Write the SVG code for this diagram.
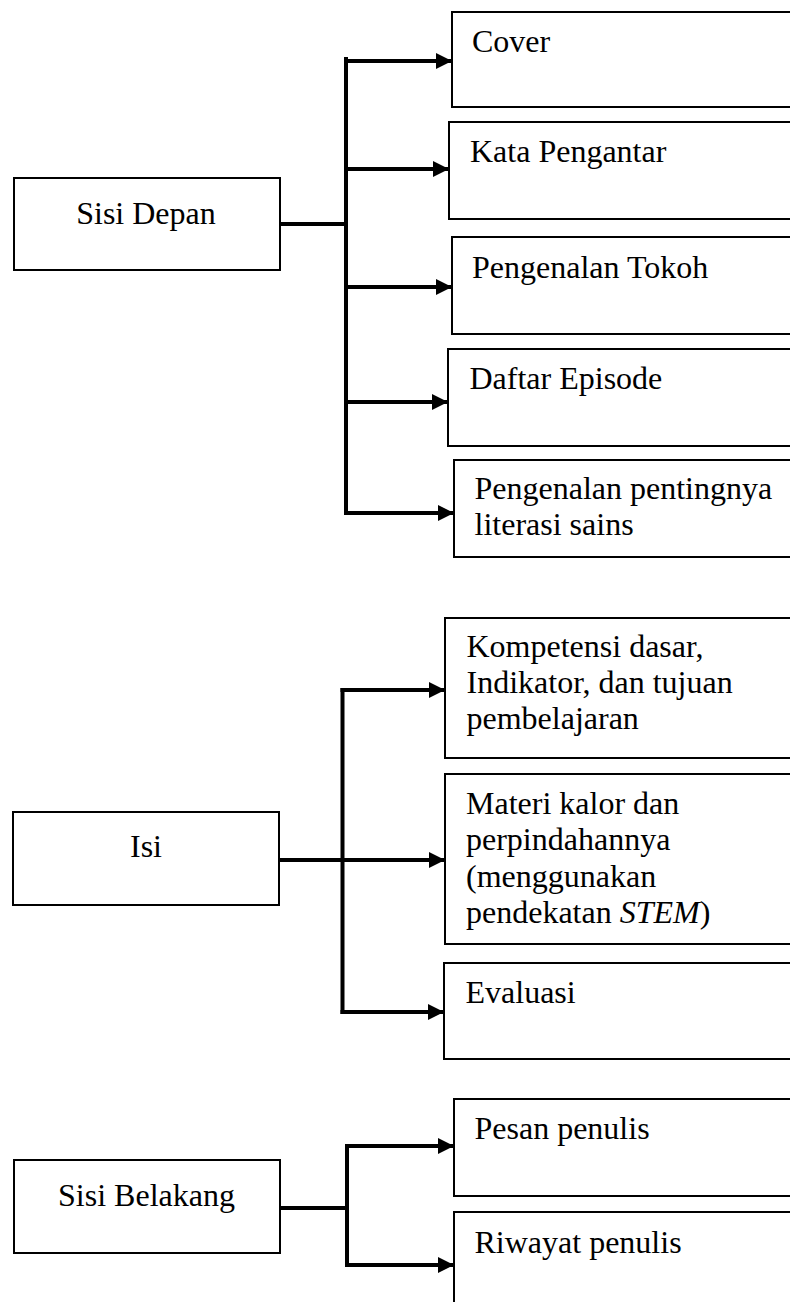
<svg xmlns="http://www.w3.org/2000/svg" width="790" height="1302" viewBox="0 0 790 1302">
<style>
.box{fill:#fff;stroke:#000;stroke-width:2}
.t{font-family:"Liberation Serif","Times New Roman",serif;font-size:32px;fill:#000}
.c{text-anchor:middle}
.ln{fill:none;stroke:#000;stroke-width:4;stroke-linecap:butt;stroke-linejoin:miter}
</style>
<defs>
<marker id="ah" viewBox="0 0 16 16" refX="16" refY="8" markerWidth="16" markerHeight="16" markerUnits="userSpaceOnUse" orient="auto">
<path d="M0,0 L16,8 L0,16 Z" fill="#000"/>
</marker>
</defs>
<rect width="790" height="1302" fill="#fff"/>

<g id="sisi-depan">
<rect class="box" x="14" y="178" width="266" height="92"/>
<text class="t c" x="146" y="224">Sisi Depan</text>
</g>
<g id="cover">
<rect class="box" x="452" y="12" width="360" height="95"/>
<text class="t" x="472" y="52">Cover</text>
</g>
<g id="kata-pengantar">
<rect class="box" x="449" y="122" width="360" height="97"/>
<text class="t" x="470" y="162">Kata Pengantar</text>
</g>
<g id="pengenalan-tokoh">
<rect class="box" x="452" y="237" width="360" height="97"/>
<text class="t" x="472" y="278">Pengenalan Tokoh</text>
</g>
<g id="daftar-episode">
<rect class="box" x="448" y="349" width="360" height="97"/>
<text class="t" x="469.5" y="389">Daftar Episode</text>
</g>
<g id="literasi-sains">
<rect class="box" x="454" y="460" width="360" height="97"/>
<text class="t" x="474.5" y="499">Pengenalan pentingnya</text>
<text class="t" x="474.5" y="535">literasi sains</text>
</g>

<g id="isi">
<rect class="box" x="13" y="812" width="266" height="93"/>
<text class="t c" x="146" y="857">Isi</text>
</g>
<g id="kompetensi">
<rect class="box" x="445" y="618" width="360" height="140"/>
<text class="t" x="466.5" y="657">Kompetensi dasar,</text>
<text class="t" x="466.5" y="693">Indikator, dan tujuan</text>
<text class="t" x="466.5" y="729">pembelajaran</text>
</g>
<g id="materi">
<rect class="box" x="445" y="774" width="360" height="170"/>
<text class="t" x="466" y="814">Materi kalor dan</text>
<text class="t" x="466" y="850">perpindahannya</text>
<text class="t" x="466" y="887">(menggunakan</text>
<text class="t" x="466" y="923">pendekatan <tspan font-style="italic">STEM</tspan>)</text>
</g>
<g id="evaluasi">
<rect class="box" x="444" y="963" width="360" height="96"/>
<text class="t" x="465.5" y="1003">Evaluasi</text>
</g>

<g id="sisi-belakang">
<rect class="box" x="14" y="1160" width="266" height="93"/>
<text class="t c" x="146.5" y="1206">Sisi Belakang</text>
</g>
<g id="pesan-penulis">
<rect class="box" x="454" y="1099" width="360" height="97"/>
<text class="t" x="474.5" y="1139">Pesan penulis</text>
</g>
<g id="riwayat-penulis">
<rect class="box" x="454" y="1212" width="360" height="120"/>
<text class="t" x="474.5" y="1253">Riwayat penulis</text>
</g>

<g id="connectors">
<path class="ln" d="M280,224 H346"/>
<path class="ln" d="M346,57 V515"/>
<path class="ln" d="M346,61 H452" marker-end="url(#ah)"/>
<path class="ln" d="M344,169 H449" marker-end="url(#ah)"/>
<path class="ln" d="M346,287 H452" marker-end="url(#ah)"/>
<path class="ln" d="M344,402 H448" marker-end="url(#ah)"/>
<path class="ln" d="M344,513 H454" marker-end="url(#ah)"/>

<path class="ln" d="M279,860 H445" marker-end="url(#ah)"/>
<path class="ln" d="M342.5,688 V1014"/>
<path class="ln" d="M340.5,690 H445" marker-end="url(#ah)"/>
<path class="ln" d="M340.5,1012 H444" marker-end="url(#ah)"/>

<path class="ln" d="M280,1208 H347"/>
<path class="ln" d="M347,1144 V1267"/>
<path class="ln" d="M345,1146 H454" marker-end="url(#ah)"/>
<path class="ln" d="M345,1265 H454" marker-end="url(#ah)"/>
</g>
</svg>
